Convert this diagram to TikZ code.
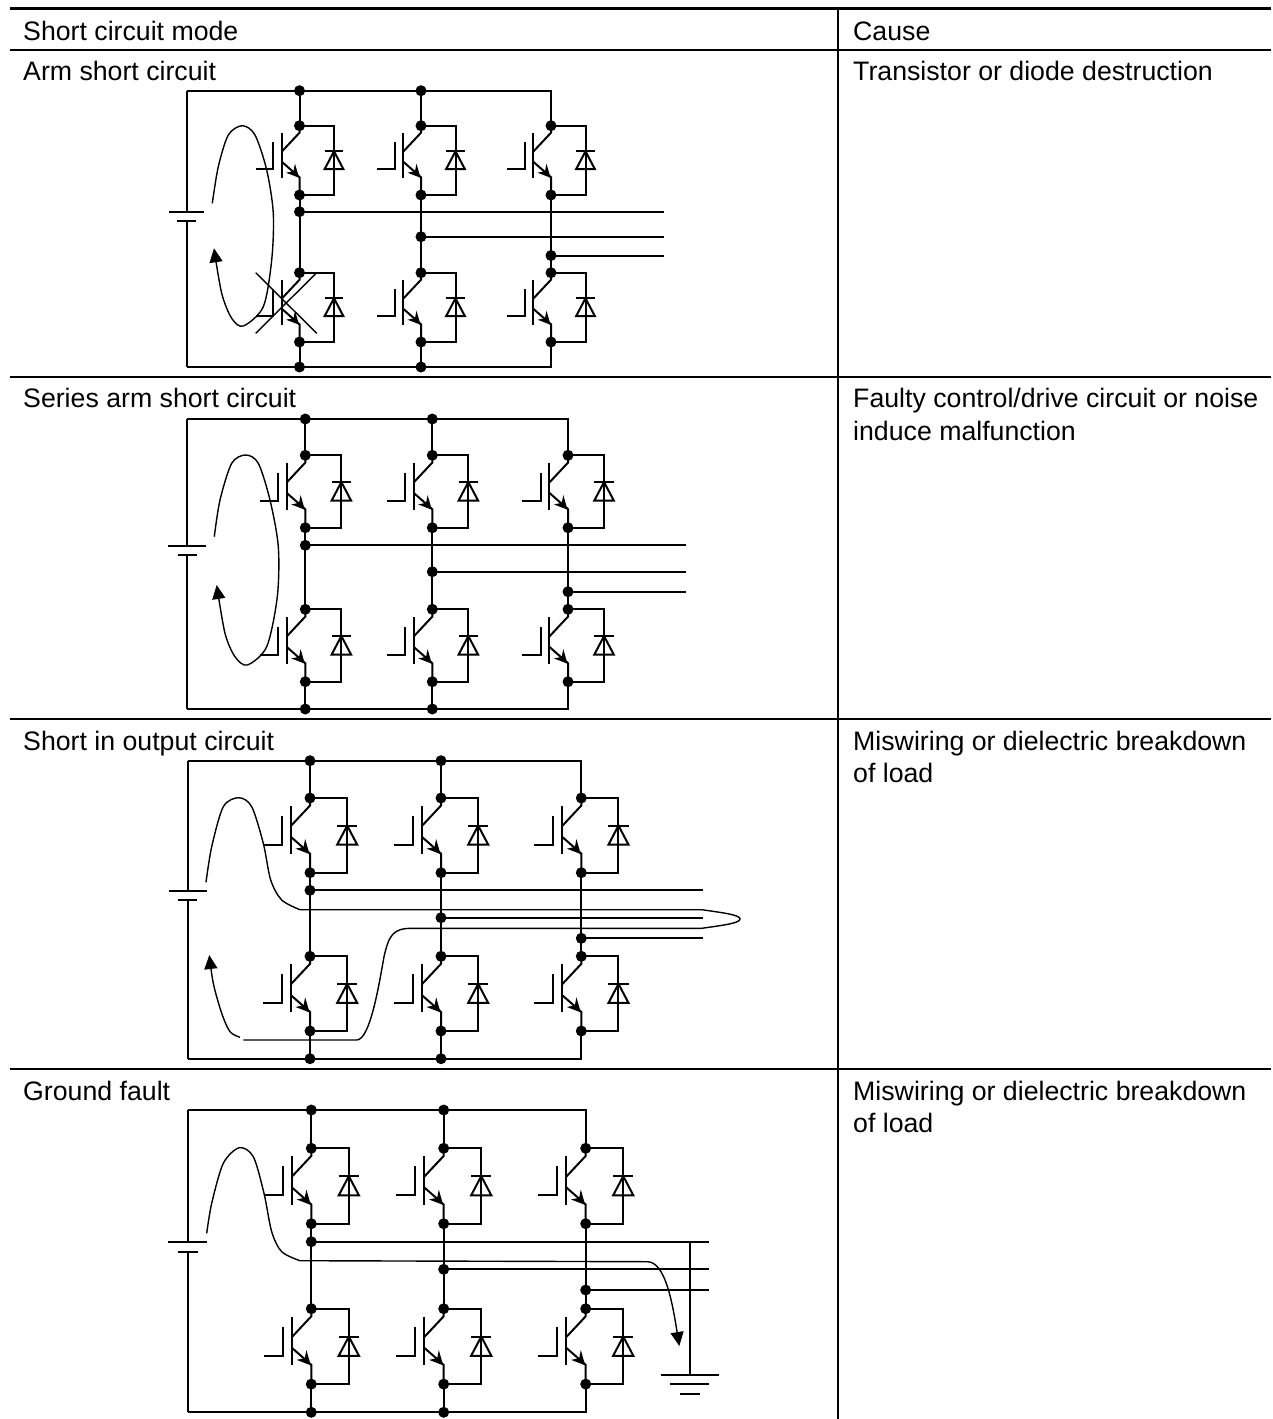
\documentclass[tikz,border=0pt]{standalone}
\usepackage{fontspec}
\setmainfont{Liberation Sans}
\usetikzlibrary{arrows.meta}
\tikzset{
  wire/.style={line width=2pt,line join=miter,black},
  rule/.style={line width=2pt,black},
  toprule/.style={line width=3pt,black},
  jdot/.style={circle,fill=black,draw=none,inner sep=0pt,minimum size=11pt},
  flow/.style={line width=1.4pt,black},
  flowtip/.style={flow,-{Triangle[length=14pt,width=13pt,fill=black]}},
  thinline/.style={line width=1.4pt,black},
  cell/.style={anchor=base west,inner sep=0pt,font=\fontsize{26.7pt}{32pt}\selectfont}
}
\newcommand\igbt[4]{%
  \node[jdot] (#1-c) at (#2,#3) {};
  \node[jdot] (#1-e) at (#2,{#3+69.3*#4}) {};
  \begin{scope}[shift={(#2,#3)},scale=#4]
    \draw[wire] (0,0)--(0,7)--(-17.8,26);
    \draw[wire] (-17.8,36)--(0,51.6)--(0,69.3);
    \draw[wire] (-17.8,7.3)--(-17.8,52);
    \draw[wire] (-26.2,16.6)--(-26.2,43.3)--(-43.8,43.3);
    \fill[black] (-0.5,52)--(-4.5,38)--(-6,45.5)--(-13.5,47)--cycle;
    \draw[wire] (0,0)--(34.5,0)--(34.5,69.3)--(0,69.3);
    \draw[wire] (25.2,25.6)--(43.8,25.6);
    \draw[wire] (34.5,25.6)--(25.2,43.3)--(43.8,43.3)--cycle;
  \end{scope}}
% prefix, left, top, bottom, c1, c2, c3, upper y, lower y, scale
\newcommand\inverter[9]{%
  \def\pfx{#1}\def\lft{#2}\def\tp{#3}\def\bt{#4}\def\xa{#5}\def\xb{#6}\def\xc{#7}\def\ya{#8}\def\yb{#9}\inverterB}
\newcommand\inverterB[1]{%
  \igbt{\pfx-a1}{\xa}{\ya}{#1}\igbt{\pfx-b1}{\xb}{\ya}{#1}\igbt{\pfx-c1}{\xc}{\ya}{#1}
  \igbt{\pfx-a2}{\xa}{\yb}{#1}\igbt{\pfx-b2}{\xb}{\yb}{#1}\igbt{\pfx-c2}{\xc}{\yb}{#1}
  \node[jdot] (\pfx-ta) at (\xa,\tp) {};
  \node[jdot] (\pfx-tb) at (\xb,\tp) {};
  \coordinate (\pfx-tc) at (\xc,\tp);
  \coordinate (\pfx-tl) at (\lft,\tp);
  \node[jdot] (\pfx-ba) at (\xa,\bt) {};
  \node[jdot] (\pfx-bb) at (\xb,\bt) {};
  \coordinate (\pfx-bc) at (\xc,\bt);
  \coordinate (\pfx-bl) at (\lft,\bt);
  \draw[wire] (\pfx-tl)--(\pfx-ta.center)--(\pfx-tb.center)--(\pfx-tc)--(\pfx-c1-c.center);
  \draw[wire] (\pfx-ta.center)--(\pfx-a1-c.center);
  \draw[wire] (\pfx-tb.center)--(\pfx-b1-c.center);
  \draw[wire] (\pfx-bl)--(\pfx-ba.center)--(\pfx-bb.center)--(\pfx-bc)--(\pfx-c2-e.center);
  \draw[wire] (\pfx-ba.center)--(\pfx-a2-e.center);
  \draw[wire] (\pfx-bb.center)--(\pfx-b2-e.center);
  \draw[wire] (\pfx-a1-e.center)--(\pfx-a2-c.center);
  \draw[wire] (\pfx-b1-e.center)--(\pfx-b2-c.center);
  \draw[wire] (\pfx-c1-e.center)--(\pfx-c2-c.center);
}
% prefix, xa, xb, xc, ja, jb, jc, xend
\newcommand\outputs[8]{%
  \node[jdot] (#1-ja) at (#2,#5) {};
  \node[jdot] (#1-jb) at (#3,#6) {};
  \node[jdot] (#1-jc) at (#4,#7) {};
  \coordinate (#1-oa) at (#8,#5);
  \coordinate (#1-ob) at (#8,#6);
  \coordinate (#1-oc) at (#8,#7);
  \draw[wire] (#1-ja.center)--(#1-oa);
  \draw[wire] (#1-jb.center)--(#1-ob);
  \draw[wire] (#1-jc.center)--(#1-oc);
}
% prefix, left x, long plate y, short plate y, long half-width, short half-width
\newcommand\battery[6]{%
  \coordinate (#1-p1) at (#2,#3);
  \coordinate (#1-p2) at (#2,#4);
  \draw[wire] (#2-#5,#3)--(#2+#5,#3);
  \draw[wire] (#2-#6,#4)--(#2+#6,#4);
  \draw[wire] (#1-p1)--(#1-tl);
  \draw[wire] (#1-p2)--(#1-bl);
}
\begin{document}
\begin{tikzpicture}[x=1pt,y=-1pt]
\useasboundingbox (0,0) rectangle (1273,1419);
% table
\coordinate (tl) at (10,8.3); \coordinate (tr) at (1271,8.3);
\coordinate (h1) at (10,50); \coordinate (h2) at (1271,50);
\coordinate (r1a) at (10,377.3); \coordinate (r1b) at (1271,377.3);
\coordinate (r2a) at (10,718.5); \coordinate (r2b) at (1271,718.5);
\coordinate (r3a) at (10,1068.5); \coordinate (r3b) at (1271,1068.5);
\coordinate (v1) at (838,8.3); \coordinate (v2) at (838,1419);
\draw[toprule] (tl)--(tr);
\draw[rule] (h1)--(h2);
\draw[rule] (r1a)--(r1b);
\draw[rule] (r2a)--(r2b);
\draw[rule] (r3a)--(r3b);
\draw[rule] (v1)--(v2);
% texts
\node[cell] (t1) at (23,40) {Short circuit mode};
\node[cell] (t2) at (853,40) {Cause};
\node[cell] (t3) at (23,80) {Arm short circuit};
\node[cell] (t4) at (853,80) {Transistor or diode destruction};
\node[cell] (t5) at (23,407.7) {Series arm short circuit};
\node[cell] (t6) at (853,407.7) {Faulty control/drive circuit or noise};
\node[cell] (t7) at (853,440) {induce malfunction};
\node[cell] (t8) at (23,750) {Short in output circuit};
\node[cell] (t9) at (853,750) {Miswiring or dielectric breakdown};
\node[cell] (t10) at (853,782) {of load};
\node[cell] (t11) at (23,1100) {Ground fault};
\node[cell] (t12) at (853,1100) {Miswiring or dielectric breakdown};
\node[cell] (t13) at (853,1132) {of load};
% panel 1
\inverter{A}{186.7}{90.7}{367}{299.5}{421}{551}{125.7}{272.7}{1}
\outputs{A}{299.5}{421}{551}{211.7}{236.7}{255.5}{664}
\battery{A}{186.7}{211.7}{221}{17.7}{9.5}
\draw[flowtip] plot[smooth] coordinates {(212.3,203.3)(218.3,166.7)(228.3,135)(242.3,125.7)(255,135)(266.7,170)(273.3,213.3)(271.7,260)(263.3,306.7)(243.3,326)(231.7,318.3)(221.7,293.3)(214,248.3)};
\coordinate (x1) at (255.7,272.7); \coordinate (x2) at (316.7,333.3);
\coordinate (x3) at (255.7,333.3); \coordinate (x4) at (316.7,272.7);
\draw[thinline] (x1)--(x2);
\draw[thinline] (x3)--(x4);
% panel 2
\inverter{B}{187}{419}{709}{305.3}{432.3}{568}{455.3}{609.3}{1.045}
\outputs{B}{305.3}{432.3}{568}{545.3}{571.7}{591.7}{685.7}
\battery{B}{187}{546}{554.7}{18.7}{9.5}
\draw[flowtip] plot[smooth] coordinates {(214.3,536.7)(220,500)(231.7,463.3)(245.7,455)(258.3,463.3)(270,500)(278.3,546.7)(277.3,596.7)(266.7,646.7)(247.3,665)(235,656.7)(225,633.3)(216.7,585)};
% panel 3
\inverter{C}{187.7}{760.7}{1058.7}{310}{441}{581.3}{798}{956.3}{1.078}
\outputs{C}{310}{441}{581.3}{890.3}{917.7}{938.3}{703.3}
\battery{C}{187.7}{891}{900.3}{19}{9.5}
\draw[flow] plot[smooth] coordinates {(206,882.3)(211.7,846.7)(223.3,806.7)(238.7,797.7)(251.7,806.7)(263.3,843.3)(270.7,880)(281.7,900)(300,909.7)}
  -- (701.7,909.7) .. controls (725,913) and (740,915) .. (740,919) .. controls (740,923) and (725,925) .. (701.7,928.3)
  -- (412,928.3) .. controls (393,928.3) and (389,935) .. (384,956.7) .. controls (379,985) and (370,1040) .. (356.7,1040) -- (243.3,1040);
\draw[flowtip] plot[smooth] coordinates {(240,1037.3)(230,1031.7)(221.7,1013.3)(213.3,983.3)(209.3,955)};
% panel 4
\inverter{D}{187.7}{1110}{1412.3}{311.3}{443.7}{585.7}{1148.3}{1308.7}{1.088}
\outputs{D}{311.3}{443.7}{585.7}{1241.7}{1269.3}{1290}{709}
\battery{D}{187.7}{1242.3}{1252}{19.7}{10}
\draw[flowtip] plot[smooth] coordinates {(206.7,1233.3)(211.7,1203.3)(223.3,1163.3)(239.3,1147.7)(253.3,1156.7)(264,1193.3)(271.7,1231.7)(281.7,1251.7)(300,1260.7)}
  -- (648,1261.7) .. controls (665,1263) and (672,1300) .. (679.3,1346);
\coordinate (gt) at (689.7,1241.7);
\coordinate (g0) at (689.7,1374.7);
\draw[wire] (gt)--(g0);
\draw[wire] (660.5,1374.7)--(718.7,1374.7);
\draw[wire] (670,1384)--(709,1384);
\draw[wire] (679.5,1393.7)--(700,1393.7);
\end{tikzpicture}
\end{document}
